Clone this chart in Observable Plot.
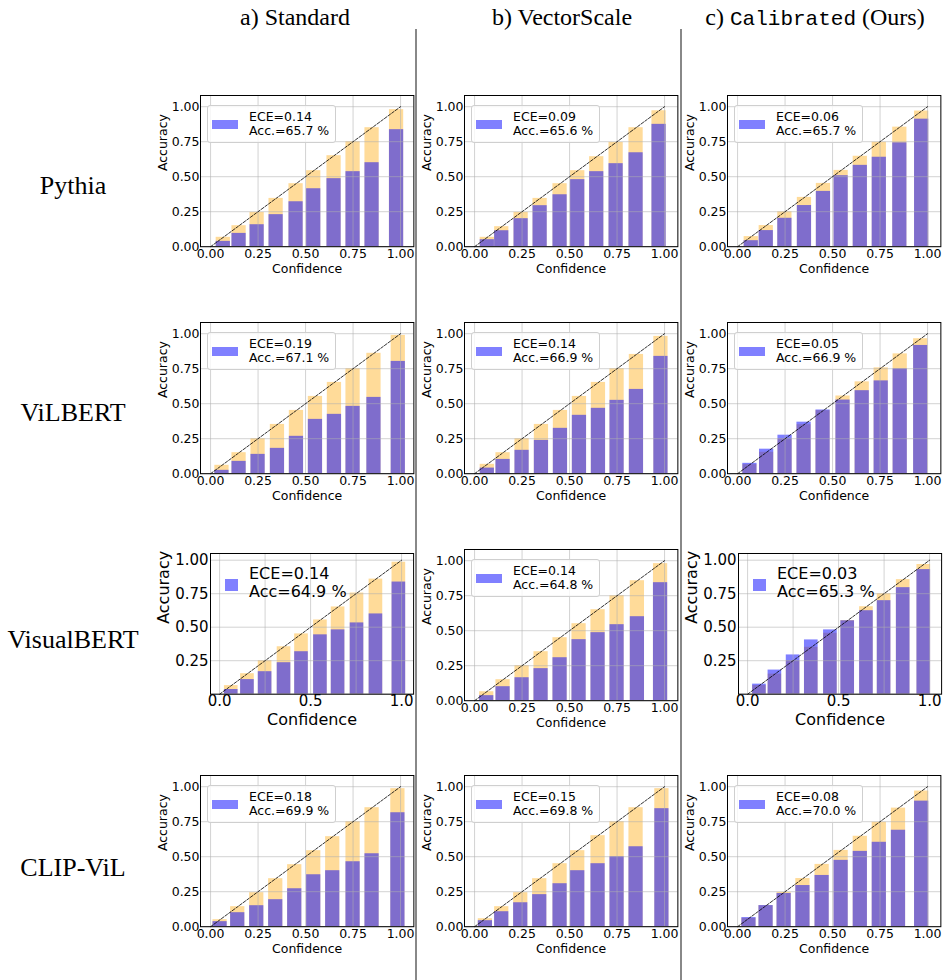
<!DOCTYPE html>
<html><head><meta charset="utf-8">
<script src="https://cdn.jsdelivr.net/npm/d3@7"></script>
<script src="https://cdn.jsdelivr.net/npm/@observablehq/plot@0.6"></script>
<style>
body{margin:0;background:#fff;}
#root{position:relative;width:950px;height:980px;overflow:hidden;background:#fff;}
.abs{position:absolute;}
.serif{font-family:"Liberation Serif","Times New Roman",serif;}
.mono{font-family:"Liberation Mono","Courier New",monospace;}
.hdr{font-size:24px;white-space:nowrap;transform:translate(-50%,-50%);line-height:1;}
.rowlab{font-size:26px;white-space:nowrap;transform:translate(-50%,-50%);line-height:1;}
.sep{background:#888;width:2px;}
.legbox{border:1px solid #cfcfcf;border-radius:3px;background:rgba(255,255,255,0.8);box-sizing:border-box;}
.legtxt{font-family:"DejaVu Sans",sans-serif;white-space:nowrap;color:#000;}
</style></head><body><div id="root"></div>
<script>
// ---- data ----
const models = ["Pythia", "ViLBERT", "VisualBERT", "CLIP-ViL"];
const methods = ["Standard", "VectorScale", "Calibrated"];
const eceValues = [[0.14, 0.09, 0.06], [0.19, 0.14, 0.05], [0.14, 0.14, 0.03], [0.18, 0.15, 0.08]];
const accValues = [["65.7", "65.6", "65.7"], ["67.1", "66.9", "66.9"], ["64.9", "64.8", "65.3"], ["69.9", "69.8", "70.0"]];

const pythiaStdConf = [0.067, 0.15, 0.245, 0.345, 0.45, 0.543, 0.65, 0.75, 0.85, 0.979];
const pythiaStdAcc  = [0.038, 0.095, 0.157, 0.229, 0.321, 0.414, 0.486, 0.536, 0.6, 0.836];
const pythiaVecConf = [0.067, 0.143, 0.245, 0.345, 0.45, 0.543, 0.643, 0.745, 0.85, 0.971];
const pythiaVecAcc  = [0.05, 0.114, 0.2, 0.293, 0.371, 0.479, 0.536, 0.593, 0.671, 0.874];
const pythiaCalConf = [0.072, 0.151, 0.249, 0.352, 0.452, 0.545, 0.646, 0.746, 0.854, 0.969];
const pythiaCalAcc  = [0.043, 0.115, 0.203, 0.294, 0.395, 0.507, 0.581, 0.639, 0.742, 0.911];

const vilbertStdConf = [0.06, 0.15, 0.25, 0.352, 0.452, 0.552, 0.652, 0.75, 0.86, 0.988];
const vilbertStdAcc  = [0.024, 0.088, 0.138, 0.181, 0.267, 0.388, 0.424, 0.481, 0.545, 0.802];
const vilbertVecConf = [0.067, 0.15, 0.25, 0.352, 0.452, 0.552, 0.652, 0.75, 0.852, 0.981];
const vilbertVecAcc  = [0.04, 0.102, 0.167, 0.238, 0.324, 0.417, 0.467, 0.524, 0.602, 0.838];
const vilbertCalConf = [0.065, 0.153, 0.25, 0.35, 0.45, 0.555, 0.656, 0.756, 0.856, 0.964];
const vilbertCalAcc  = [0.074, 0.175, 0.275, 0.368, 0.455, 0.526, 0.593, 0.663, 0.749, 0.916];

const visualbertStdConf = [0.064, 0.153, 0.25, 0.354, 0.45, 0.554, 0.651, 0.755, 0.859, 0.985];
const visualbertStdAcc  = [0.035, 0.109, 0.168, 0.235, 0.317, 0.443, 0.48, 0.532, 0.599, 0.837];
const visualbertVecConf = [0.064, 0.15, 0.25, 0.35, 0.45, 0.55, 0.65, 0.75, 0.857, 0.979];
const visualbertVecAcc  = [0.036, 0.1, 0.164, 0.229, 0.307, 0.436, 0.486, 0.543, 0.6, 0.843];
const visualbertCalConf = [0.065, 0.15, 0.25, 0.35, 0.455, 0.55, 0.653, 0.75, 0.855, 0.968];
const visualbertCalAcc  = [0.075, 0.18, 0.293, 0.405, 0.48, 0.548, 0.623, 0.698, 0.795, 0.93];

const clipStdConf = [0.05, 0.143, 0.243, 0.343, 0.443, 0.543, 0.643, 0.75, 0.85, 0.986];
const clipStdAcc  = [0.036, 0.1, 0.15, 0.193, 0.271, 0.371, 0.4, 0.464, 0.521, 0.814];
const clipVecConf = [0.057, 0.143, 0.243, 0.343, 0.45, 0.543, 0.65, 0.75, 0.85, 0.986];
const clipVecAcc  = [0.043, 0.107, 0.171, 0.229, 0.307, 0.4, 0.45, 0.5, 0.571, 0.843];
const clipCalConf = [0.06, 0.15, 0.245, 0.344, 0.445, 0.545, 0.646, 0.746, 0.847, 0.969];
const clipCalAcc  = [0.065, 0.151, 0.237, 0.294, 0.366, 0.474, 0.538, 0.603, 0.689, 0.897];

const confGrid = [[pythiaStdConf, pythiaVecConf, pythiaCalConf], [vilbertStdConf, vilbertVecConf, vilbertCalConf],
                  [visualbertStdConf, visualbertVecConf, visualbertCalConf], [clipStdConf, clipVecConf, clipCalConf]];
const accGrid = [[pythiaStdAcc, pythiaVecAcc, pythiaCalAcc], [vilbertStdAcc, vilbertVecAcc, vilbertCalAcc],
                 [visualbertStdAcc, visualbertVecAcc, visualbertCalAcc], [clipStdAcc, clipVecAcc, clipCalAcc]];

const tickValues = [0, 0.25, 0.5, 0.75, 1];
const coarseXTicks = [0, 0.5, 1];
const coarseYTicks = [0.25, 0.5, 0.75, 1];
const diagonal = [0, 1];

// ---- layout ----
const root = document.getElementById("root");
function add(el) { root.appendChild(el); return el; }
function div(cls, style, html) {
  const d = document.createElement("div");
  d.className = "abs " + cls;
  Object.assign(d.style, style);
  if (html != null) d.innerHTML = html;
  return add(d);
}

// separators
div("sep", {left: "415px", top: "29px", height: "960px"});
div("sep", {left: "680px", top: "29px", height: "960px"});

// column headers
div("serif hdr", {left: "295px", top: "17px"}, "a) Standard");
div("serif hdr", {left: "562px", top: "17px"}, "b) VectorScale");
div("serif hdr", {left: "815px", top: "17px"}, 'c) <span class="mono" style="font-size:21px">Calibrated</span> (Ours)');

// row labels
const rowLabelY = [186, 413, 640, 868];
models.forEach((m, i) => div("serif rowlab", {left: "73px", top: rowLabelY[i] + "px"}, m));

const colFrameLeft = [200, 464, 727];
const rowFrameTop = [95, 322, 549, 775];
const barHalf = 0.0375;

function panel(r, c) {
  const special = (r === 2 && c !== 1);
  const conf = confGrid[r][c], acc = accGrid[r][c];
  const rows = conf.map((v, i) => ({conf: v, acc: acc[i]}));
  const xDomain = special ? [-0.05, 1.066] : [-0.053, 1.07];
  const yDomain = special ? [0, 1.05] : [0, 1.08];
  const pxX = special ? 182 : 190, pxY = special ? 134 : 140;
  const fw = (xDomain[1] - xDomain[0]) * pxX;
  const fh = (yDomain[1] - yDomain[0]) * pxY;
  const frameLeft = special ? (c === 0 ? 210 : 738) : colFrameLeft[c];
  const frameTop = special ? 553 : rowFrameTop[r];
  const mL = 64, mT = 4, mR = 6, mB = 44;
  const tickFont = special ? 15 : 12.5;
  const labFont = special ? 16 : 12.5;
  const plot = Plot.plot({
    width: fw + mL + mR, height: fh + mT + mB,
    marginLeft: mL, marginTop: mT, marginRight: mR, marginBottom: mB,
    x: {domain: xDomain},
    y: {domain: yDomain},
    style: {fontFamily: "DejaVu Sans, sans-serif", fontSize: tickFont + "px", background: "transparent", color: "black", overflow: "visible"},
    marks: [
      Plot.rect(rows, {x1: d => d.conf - barHalf, x2: d => d.conf + barHalf, y1: 0, y2: "conf", fill: "orange", fillOpacity: 0.4}),
      Plot.rect(rows, {x1: d => d.conf - barHalf, x2: d => d.conf + barHalf, y1: 0, y2: "acc", fill: "blue", fillOpacity: 0.5}),
      Plot.gridX(tickValues, {stroke: "#b0b0b0", strokeOpacity: 0.7, strokeWidth: 0.8}),
      Plot.gridY(tickValues, {stroke: "#b0b0b0", strokeOpacity: 0.7, strokeWidth: 0.8}),
      Plot.line(diagonal, {x: d => d, y: d => d, stroke: "black", strokeWidth: 0.8, strokeDasharray: "3,1.5"}),
      Plot.frame({stroke: "black", strokeWidth: 1}),
      Plot.axisX(special ? coarseXTicks : tickValues, {tickSize: 0, tickPadding: special ? 1 : 2, fontSize: tickFont,
        tickFormat: special ? d3.format(".1f") : d3.format(".2f"), label: null}),
      Plot.axisY(special ? coarseYTicks : tickValues, {tickSize: 0, tickPadding: special ? 2 : 1, fontSize: tickFont,
        tickFormat: d3.format(".2f"), label: null}),
      Plot.text(["Confidence"], {text: d => d, frameAnchor: "bottom", dy: special ? 26 : 22, lineAnchor: "middle", fontSize: labFont}),
      Plot.text(["Accuracy"], {text: d => d, frameAnchor: "left", dx: special ? -47 : -38, rotate: -90, lineAnchor: "middle", fontSize: labFont})
    ]
  });
  const holder = div("", {left: (frameLeft - mL) + "px", top: (frameTop - mT) + "px"});
  holder.appendChild(plot);

  const accLabel = special ? "Acc=" : "Acc.=";
  const txt = `ECE=${eceValues[r][c].toFixed(2)}<br>${accLabel}${accValues[r][c]} %`;
  if (special) {
    div("", {left: (frameLeft + 15) + "px", top: (frameTop + 26) + "px", width: "13px", height: "12px", background: "#8080ff"});
    div("legtxt", {left: (frameLeft + 39) + "px", top: (frameTop + 12) + "px", fontSize: "16px", lineHeight: "18px"}, txt);
  } else {
    div("legbox", {left: (frameLeft + 7) + "px", top: (frameTop + 10) + "px", width: "129px", height: "38px"});
    div("", {left: (frameLeft + 12) + "px", top: (frameTop + 25) + "px", width: "26px", height: "9px", background: "#8080ff"});
    div("legtxt", {left: (frameLeft + 49) + "px", top: (frameTop + 15) + "px", fontSize: "12.5px", lineHeight: "14px"}, txt);
  }
}

for (let r = 0; r < 4; r++) for (let c = 0; c < 3; c++) panel(r, c);
</script></body></html>
